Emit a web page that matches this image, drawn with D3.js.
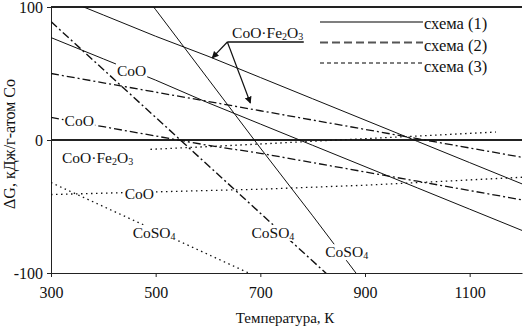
<!DOCTYPE html>
<html>
<head>
<meta charset="utf-8">
<script src="https://cdn.jsdelivr.net/npm/d3@7"></script>
<style>
  body { margin: 0; background: #fff; }
  text { font-family: "Liberation Serif", "DejaVu Serif", serif; fill: #111; }
</style>
</head>
<body>
<div class="chart"></div>
<script>
// temperatures, K
var temps = [300, 400, 500, 600, 700, 800, 900, 1000, 1100, 1200];

// scheme 1 (solid)
var s1Ferrite = [110, 94, 78, 63, 47, 31, 15, -1, -17, -33];
var s1CoO = [77, 61, 45, 28, 12, -4, -20, -36, -52, -68];
var s1SulfateT = [400, 500, 600, 700, 800, 900];
var s1Sulfate = [149, 98, 46, -6, -57, -109];

// scheme 2 (dash-dot)
var s2Ferrite = [50, 43, 36, 29, 22, 15, 8, 1, -6, -13];
var s2CoO = [17, 10, 3, -4, -10, -17, -24, -31, -38, -45];
var s2SulfateT = [300, 400, 500, 600, 700, 800, 900];
var s2Sulfate = [89, 53, 17, -19, -55, -91, -127];

// scheme 3 (dotted)
var s3FerriteT = [490, 600, 700, 800, 900, 1000, 1100, 1150];
var s3Ferrite = [-7, -5, -3, -1, 1, 3, 5, 6];
var s3CoO = [-41, -40, -39, -38, -37, -35.5, -34, -32, -30, -28];
var s3SulfateT = [300, 400, 500, 600, 700];
var s3Sulfate = [-32, -50, -68, -86, -104];

var xTicks = [300, 500, 700, 900, 1100];
var yTicks = [-100, 0, 100];
var legendNames = ['схема (1)', 'схема (2)', 'схема (3)'];

var margin = { top: 7, right: 2, bottom: 59, left: 51 };
var width = 524 - margin.left - margin.right;
var height = 332 - margin.top - margin.bottom;

var svg = d3.select('.chart')
  .append('svg')
    .attr('width', 524)
    .attr('height', 332);

var g = svg.append('g')
    .attr('transform', 'translate(' + margin.left + ',' + margin.top + ')');

var xScale = d3.scaleLinear().domain([300, 1200]).range([0, width]);
var yScale = d3.scaleLinear().domain([-100, 100]).range([height, 0]);

g.append('clipPath').attr('id', 'plot')
  .append('rect').attr('width', width).attr('height', height);

// gridlines at 100 and 0
g.selectAll('.grid')
  .data([100, 0])
  .enter()
  .append('line')
    .attr('x1', 0).attr('x2', width)
    .attr('y1', d => yScale(d)).attr('y2', d => yScale(d))
    .style('stroke', '#222')
    .style('stroke-width', 2);

// axes
var xAxis = g.append('g')
    .attr('transform', `translate(0, ${height})`)
    .call(d3.axisBottom(xScale).tickValues(xTicks).tickSize(4).tickPadding(10).tickSizeOuter(0)
      .tickFormat(d => String(d)));
var yAxis = g.append('g')
    .call(d3.axisLeft(yScale).tickValues(yTicks).tickSize(4).tickPadding(4).tickSizeOuter(0)
      .tickFormat(d => String(d)));

[xAxis, yAxis].forEach(a => {
  a.select('.domain').style('stroke', '#222');
  a.selectAll('.tick line').style('stroke', '#222');
  a.selectAll('.tick text').style('font-size', '16px').style('font-family', '"Liberation Serif", serif').style('fill', '#111');
});

// series table
function pairs(ts, vs) { return ts.map((t, i) => ({ t: t, v: vs[i] })); }
var series = [
  { pts: pairs(temps, s1Ferrite), dash: null, w: 1 },
  { pts: pairs(temps, s1CoO), dash: null, w: 1 },
  { pts: pairs(s1SulfateT, s1Sulfate), dash: null, w: 1 },
  { pts: pairs(temps, s2Ferrite), dash: '8,3,2,3', w: 1.3 },
  { pts: pairs(temps, s2CoO), dash: '8,3,2,3', w: 1.3 },
  { pts: pairs(s2SulfateT, s2Sulfate), dash: '8,3,2,3', w: 1.4 },
  { pts: pairs(s3FerriteT, s3Ferrite), dash: '1.5,3.5', w: 1.3 },
  { pts: pairs(temps, s3CoO), dash: '1.5,3.5', w: 1.3 },
  { pts: pairs(s3SulfateT, s3Sulfate), dash: '1.5,3.5', w: 1.3 }
];

var line = d3.line()
  .x(d => xScale(d.t))
  .y(d => yScale(d.v));

g.append('g')
    .attr('clip-path', 'url(#plot)')
  .selectAll('.line')
  .data(series)
  .enter()
  .append('path')
    .attr('class', 'line')
    .attr('d', d => line(d.pts))
    .style('stroke', '#111')
    .style('stroke-width', d => d.w)
    .style('stroke-dasharray', d => d.dash)
    .style('fill', 'none');

// labels with white boxes, placed in data units
var labels = [
  { t: 454, v: 52.6, parts: [['CoO']] },
  { t: 354, v: 15, parts: [['CoO']] },
  { t: 389, v: -12.8, parts: [['CoO·Fe'], ['2', 1], ['O'], ['3', 1]] },
  { t: 469, v: -40, parts: [['CoO']] },
  { t: 497, v: -69.5, parts: [['CoSO'], ['4', 1]] },
  { t: 724, v: -69.5, parts: [['CoSO'], ['4', 1]] },
  { t: 865, v: -84, parts: [['CoSO'], ['4', 1]] },
  { t: 714, v: 81, parts: [['CoO·Fe'], ['2', 1], ['O'], ['3', 1]] }
];

function addLabel(d) {
  var lg = g.append('g');
  var txt = lg.append('text')
    .attr('x', xScale(d.t))
    .attr('y', yScale(d.v) + 5.5)
    .attr('text-anchor', 'middle')
    .style('font-size', '15.5px');
  d.parts.forEach(p => {
    var ts = txt.append('tspan').text(p[0]);
    if (p[1]) ts.style('font-size', '10px').attr('dy', 2);
    else if (txt.selectAll('tspan').size() > 1) ts.attr('dy', -2);
  });
  var b = txt.node().getBBox();
  lg.insert('rect', 'text')
    .attr('x', b.x - 1).attr('y', b.y + 1)
    .attr('width', b.width + 2).attr('height', b.height - 2)
    .style('fill', '#fff');
}
labels.forEach(addLabel);

// annotation arrows for the upper CoO·Fe2O3 label
svg.append('defs').append('marker')
    .attr('id', 'arr')
    .attr('viewBox', '0 0 10 10')
    .attr('refX', 9).attr('refY', 5)
    .attr('markerWidth', 7).attr('markerHeight', 7)
    .attr('markerUnits', 'userSpaceOnUse')
    .attr('orient', 'auto')
  .append('path')
    .attr('d', 'M0,0L10,5L0,10Z')
    .style('fill', '#111');

var arrowFrom = { t: 637, v: 73.7 };
var underlineEnd = { t: 783, v: 73.7 };
var arrowTips = [{ t: 608, v: 61.7 }, { t: 681, v: 27.8 }];

g.append('line')
    .attr('x1', xScale(arrowFrom.t)).attr('y1', yScale(arrowFrom.v))
    .attr('x2', xScale(underlineEnd.t)).attr('y2', yScale(underlineEnd.v))
    .style('stroke', '#111').style('stroke-width', 1.5);

g.selectAll('.arrow')
  .data(arrowTips)
  .enter()
  .append('line')
    .attr('x1', xScale(arrowFrom.t)).attr('y1', yScale(arrowFrom.v))
    .attr('x2', d => xScale(d.t)).attr('y2', d => yScale(d.v))
    .attr('marker-end', 'url(#arr)')
    .style('stroke', '#111').style('stroke-width', 1.2);

// legend
var legend = svg.append('g').attr('transform', 'translate(320, 22)');
var legendDash = [null, '8,4', '4,3'];
var legendW = [1.3, 2, 1.3];
legendNames.forEach((name, i) => {
  legend.append('line')
      .attr('x1', 0).attr('x2', 103)
      .attr('y1', i * 20.5).attr('y2', i * 20.5)
      .style('stroke', '#555')
      .style('stroke-width', legendW[i])
      .style('stroke-dasharray', legendDash[i]);
  legend.append('text')
      .attr('x', 104)
      .attr('y', i * 21.5 + 7)
      .style('font-size', '16.5px')
      .text(name);
});

// axis titles
svg.append('text')
    .attr('x', 285).attr('y', 323)
    .attr('text-anchor', 'middle')
    .style('font-size', '15px')
    .text('Температура, К');

svg.append('text')
    .attr('transform', 'translate(15, 144) rotate(-90)')
    .attr('text-anchor', 'middle')
    .style('font-size', '16px')
    .text('ΔG, кДж/г-атом Co');
</script>
</body>
</html>
